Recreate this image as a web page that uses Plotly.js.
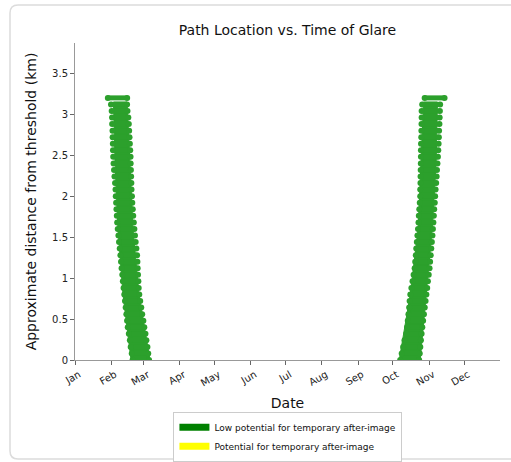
<!DOCTYPE html>
<html>
<head>
<meta charset="utf-8">
<script src="https://cdn.plot.ly/plotly-3.0.1.min.js"></script>
<style>html,body{margin:0;padding:0;background:#fff;}#chart{width:511px;height:462px;}</style>
</head>
<body>
<div id="chart"></div>
<script>
// Distance levels (km) along the approach path
const levels = [3.20,3.12,3.04,2.96,2.88,2.80,2.72,2.64,2.56,2.48,2.40,2.32,2.24,2.16,2.08,2.00,1.92,1.84,1.76,1.68,1.60,1.52,1.44,1.36,1.28,1.20,1.12,1.04,0.96,0.88,0.80,0.72,0.64,0.56,0.48,0.40,0.32,0.24,0.16,0.08,0.00];

// Glare window (day of year, 0 = Jan 1) for each level – Feb event
const febStartDay = [28.2,30.9,31.5,31.8,31.9,32.2,32.3,32.5,32.6,32.8,33.1,33.5,33.9,34.4,34.8,35.0,35.3,35.6,35.9,36.2,36.7,37.3,37.8,38.4,39.0,39.5,40.0,40.6,41.1,41.7,42.3,42.9,43.5,44.1,44.7,45.3,46.2,47.1,47.8,48.7,49.4];
const febEndDay   = [44.8,44.7,45.1,45.8,46.2,46.5,46.8,47.1,47.4,47.7,47.8,48.0,48.2,48.4,48.5,48.9,49.2,49.6,50.0,50.5,51.0,51.5,52.1,52.7,53.3,53.6,53.8,54.1,54.4,54.7,55.2,56.0,56.9,57.7,58.7,59.5,60.5,61.3,62.2,62.9,63.6];

// Oct/Nov event
const octStartDay = [300.2,298.1,297.6,297.6,297.5,297.4,297.3,297.1,297.0,297.0,296.9,296.8,296.7,296.6,296.4,296.4,296.0,295.6,295.2,294.9,294.5,294.0,293.5,293.0,292.6,292.1,291.6,290.7,289.8,288.8,287.9,287.3,286.9,286.3,285.7,285.1,284.4,282.9,281.7,280.5,279.2];
const octEndDay   = [317.3,313.5,313.3,313.1,312.9,312.6,312.4,312.2,311.9,311.6,311.2,310.8,310.5,310.1,309.6,309.2,308.9,308.4,308.1,307.7,307.3,306.9,306.4,305.9,305.4,304.9,304.4,303.7,303.0,302.4,301.7,301.0,300.3,299.6,298.9,298.2,297.6,297.0,296.5,296.0,295.5];

// Dense core of each event
const coreLevels   = [0.0, 0.8, 1.6, 2.4, 3.15];
const febCoreLeft  = [48.1, 41.2, 36.9, 34.4, 33.0];
const febCoreRight = [64.4, 55.0, 49.8, 47.2, 44.7];
const octCoreLeft  = [278.4, 287.8, 294.6, 297.2, 299.3];
const octCoreRight = [296.4, 301.5, 306.7, 310.1, 311.2];

const legendNames  = ["Low potential for temporary after-image", "Potential for temporary after-image"];
const legendColors = ["#008000", "#ffff00"];

const YEAR0 = Date.UTC(2021, 0, 1);
const toDate = d => new Date(YEAR0 + d * 86400000).toISOString();
const GREEN = "#2ca02c";

function dashTrace(starts, ends) {
  const x = [], y = [];
  levels.forEach((lv, i) => {
    x.push(toDate(starts[i]), toDate(ends[i]), null);
    y.push(lv, lv, null);
  });
  return {x, y, type: "scatter", mode: "lines+markers", showlegend: false, hoverinfo: "skip",
          line: {color: GREEN, width: 5}, marker: {color: GREEN, size: 6}};
}
function coreTrace(left, right) {
  const x = left.map(toDate).concat(right.slice().reverse().map(toDate));
  const y = coreLevels.concat(coreLevels.slice().reverse());
  return {x, y, type: "scatter", mode: "lines", fill: "toself", fillcolor: GREEN,
          line: {color: GREEN, width: 1}, showlegend: false, hoverinfo: "skip"};
}

const traces = [
  coreTrace(febCoreLeft, febCoreRight),
  coreTrace(octCoreLeft, octCoreRight),
  dashTrace(febStartDay, febEndDay),
  dashTrace(octStartDay, octEndDay)
];
legendNames.forEach((n, i) => {
  traces.push({x: [null], y: [null], type: "scatter", mode: "lines", name: n,
               line: {color: legendColors[i], width: 7}});
});

const px = v => (v - 75) / 425, py = v => (360 - v) / 317;
const fx0 = px(10), fx1 = px(530), fy0 = py(459), fy1 = py(5);
const rx = 8 / 425, ry = 8 / 317;
const framePath = `M ${fx0} ${fy1 - ry} Q ${fx0} ${fy1} ${fx0 + rx} ${fy1} L ${fx1} ${fy1} L ${fx1} ${fy0} L ${fx0 + rx} ${fy0} Q ${fx0} ${fy0} ${fx0} ${fy0 + ry} Z`;

const layout = {
  width: 511, height: 462,
  margin: {l: 75, r: 11, t: 43, b: 102, autoexpand: false},
  paper_bgcolor: "#fff", plot_bgcolor: "#fff",
  font: {family: "DejaVu Sans", color: "#222"},
  title: {text: "Path Location vs. Time of Glare", font: {size: 14, color: "#111"},
          x: 0.5625, xanchor: "center", y: 0.935, yanchor: "middle"},
  xaxis: {type: "date", range: [toDate(0), toDate(364.9)], dtick: "M1", tick0: toDate(0),
          tickformat: "%b", tickangle: -30, showgrid: false, zeroline: false, automargin: false,
          showline: true, linecolor: "#999", linewidth: 1, ticks: "outside", ticklen: 4,
          tickcolor: "#666", tickfont: {size: 10, color: "#222"}, ticklabelshift: 4,
          title: {text: "Date", font: {size: 14, color: "#111"}, standoff: 10}},
  yaxis: {range: [0, 3.87], dtick: 0.5, tick0: 0, showgrid: false, zeroline: false, automargin: false,
          showline: true, linecolor: "#999", linewidth: 1, ticks: "outside", ticklen: 4,
          tickcolor: "#666", tickfont: {size: 10, color: "#222"},
          title: {text: "Approximate distance from threshold (km)", font: {size: 14, color: "#111"}, standoff: 12}},
  legend: {x: 0.501, xanchor: "center", y: -0.163, yanchor: "top", orientation: "v",
           bordercolor: "#ccc", borderwidth: 1, bgcolor: "#fff", font: {size: 9, color: "#111"},
           tracegroupgap: 0, itemwidth: 30},
  shapes: [{type: "path", xref: "paper", yref: "paper", path: framePath,
            line: {color: "#dcdcdc", width: 1.5}, fillcolor: "rgba(0,0,0,0)", layer: "below"}],
  showlegend: true
};

Plotly.newPlot("chart", traces, layout, {staticPlot: true, displayModeBar: false});
</script>
</body>
</html>
